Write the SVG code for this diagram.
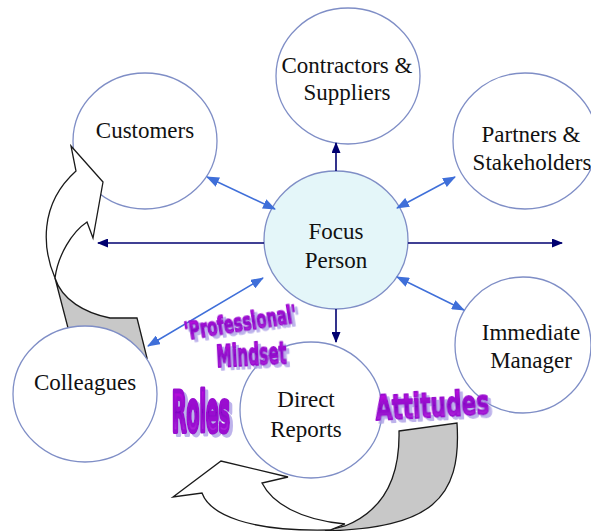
<svg xmlns="http://www.w3.org/2000/svg" width="591" height="531" viewBox="0 0 591 531">
<defs>
<style>
.node ellipse{fill:#ffffff;stroke:#7f8ec6;stroke-width:1.3}
#focus ellipse{fill:#e4f6f9}
.lbl{font-family:'Liberation Serif','Times New Roman','DejaVu Serif',serif;font-size:23px;fill:#111111;text-anchor:middle}
.navy{stroke:#000070;stroke-width:1.6;fill:none;marker-end:url(#mNavy)}
.blue{stroke:#3f6fd9;stroke-width:1.5;fill:none;marker-end:url(#mBlue);marker-start:url(#mBlue)}
.face{fill:#ffffff;stroke:#1a1a1a;stroke-width:1.3;stroke-linejoin:miter}
.under{fill:#c8c8c8;stroke:#1a1a1a;stroke-width:1.3}
.wa{font-family:'DejaVu Sans Condensed','DejaVu Sans','Liberation Sans',sans-serif;font-weight:bold;font-stretch:condensed;fill:url(#waGrad);stroke:#9a10d0;stroke-width:1.1;stroke-linejoin:round}
</style>
<linearGradient id="waGrad" x1="0" y1="0" x2="0" y2="1">
<stop offset="0" stop-color="#d816ea"/>
<stop offset="0.5" stop-color="#8506c4"/>
<stop offset="1" stop-color="#cf3cec"/>
</linearGradient>
<filter id="waSh" x="-15%" y="-30%" width="140%" height="180%">
<feOffset in="SourceAlpha" dx="3" dy="3" result="off"/>
<feFlood flood-color="#ad9fe6" flood-opacity="0.8"/>
<feComposite in2="off" operator="in" result="shadow"/>
<feMerge><feMergeNode in="shadow"/><feMergeNode in="SourceGraphic"/></feMerge>
</filter>
<marker id="mNavy" markerUnits="userSpaceOnUse" markerWidth="11" markerHeight="9" refX="10" refY="4.5" orient="auto">
<path d="M0,0 L11,4.5 L0,9 Z" fill="#000070"/>
</marker>
<marker id="mBlue" markerUnits="userSpaceOnUse" markerWidth="13" markerHeight="10" refX="12" refY="5" orient="auto-start-reverse">
<path d="M0,0 L13,5 L0,10 Z" fill="#3f6fd9"/>
</marker>
</defs>
<rect width="591" height="531" fill="#ffffff"/>

<g id="customers" class="node">
<ellipse cx="145" cy="141" rx="72" ry="68"/>
<text class="lbl" x="145" y="138">Customers</text>
</g>
<g id="contractors" class="node">
<ellipse cx="348" cy="76" rx="72" ry="68"/>
<text class="lbl" x="347" y="73">Contractors &amp;</text>
<text class="lbl" x="347" y="100">Suppliers</text>
</g>
<g id="partners" class="node">
<ellipse cx="525" cy="141" rx="72" ry="68"/>
<text class="lbl" x="531" y="142">Partners &amp;</text>
<text class="lbl" x="532" y="170">Stakeholders</text>
</g>
<g id="focus" class="node">
<ellipse cx="336" cy="240" rx="72" ry="69"/>
<text class="lbl" x="336" y="239">Focus</text>
<text class="lbl" x="336" y="268">Person</text>
</g>
<g id="manager" class="node">
<ellipse cx="523" cy="345" rx="68" ry="68"/>
<text class="lbl" x="531" y="340">Immediate</text>
<text class="lbl" x="531" y="368">Manager</text>
</g>

<g id="curved-arrow-left">
<path class="under" d="M55,278 L68,328 L147,358 L137,318 L110,318 C85,313 62,300 55,278 Z"/>
<path class="face" d="M71,146 L103,182 L93,238 L87,222 C72,232 58,255 55,278 C43,250 38,205 76,171 Z"/>
</g>

<g id="colleagues" class="node">
<ellipse cx="85" cy="394" rx="72" ry="68"/>
<text class="lbl" x="85" y="390">Colleagues</text>
</g>
<g id="direct" class="node">
<ellipse cx="311" cy="410" rx="71" ry="68"/>
<text class="lbl" x="306" y="407">Direct</text>
<text class="lbl" x="306" y="437">Reports</text>
</g>

<g id="curved-arrow-bottom">
<path class="under" d="M399,431 L457,423 C462,500 430,528 325,531 L345,526 C385,510 400,475 399,431 Z"/>
<path class="face" d="M173,497 L221,461 L288,477 L262,483 C272,503 300,520 345,524 L330,530 C250,532 210,515 202,493 Z"/>
</g>

<g id="connectors">
<line class="navy" x1="264" y1="243" x2="98" y2="243"/>
<line class="navy" x1="408" y1="243" x2="562" y2="243"/>
<line class="navy" x1="336" y1="171" x2="336" y2="143"/>
<line class="navy" x1="336" y1="309" x2="336" y2="342"/>
<line class="blue" x1="207" y1="177" x2="275" y2="209"/>
<line class="blue" x1="397" y1="208" x2="455" y2="177"/>
<line class="blue" x1="397" y1="277" x2="464" y2="310"/>
<line class="blue" x1="148" y1="346" x2="263" y2="278"/>
</g>

<g id="wordart">
<g filter="url(#waSh)" transform="rotate(-9 186 340)">
<text class="wa" transform="translate(186 340) scale(1 1.5)" x="0" y="0" font-size="16.4" textLength="113" lengthAdjust="spacingAndGlyphs">'Professional'</text>
</g>
<g filter="url(#waSh)" transform="rotate(-3 217 367)">
<text class="wa" transform="translate(217 367) scale(1 1.75)" x="0" y="0" font-size="17.2" textLength="70" lengthAdjust="spacingAndGlyphs">Mindset</text>
</g>
<g filter="url(#waSh)">
<text class="wa" transform="translate(172 431) scale(1 2.65)" x="0" y="0" font-size="20.5" textLength="58" lengthAdjust="spacingAndGlyphs" style="stroke-width:1.8">Roles</text>
</g>
<g filter="url(#waSh)" transform="rotate(-3 376 420)">
<text class="wa" transform="translate(376 420) scale(1 1.37)" x="0" y="0" font-size="24" textLength="114" lengthAdjust="spacingAndGlyphs" style="stroke-width:1.3">Attitudes</text>
</g>
</g>
</svg>
